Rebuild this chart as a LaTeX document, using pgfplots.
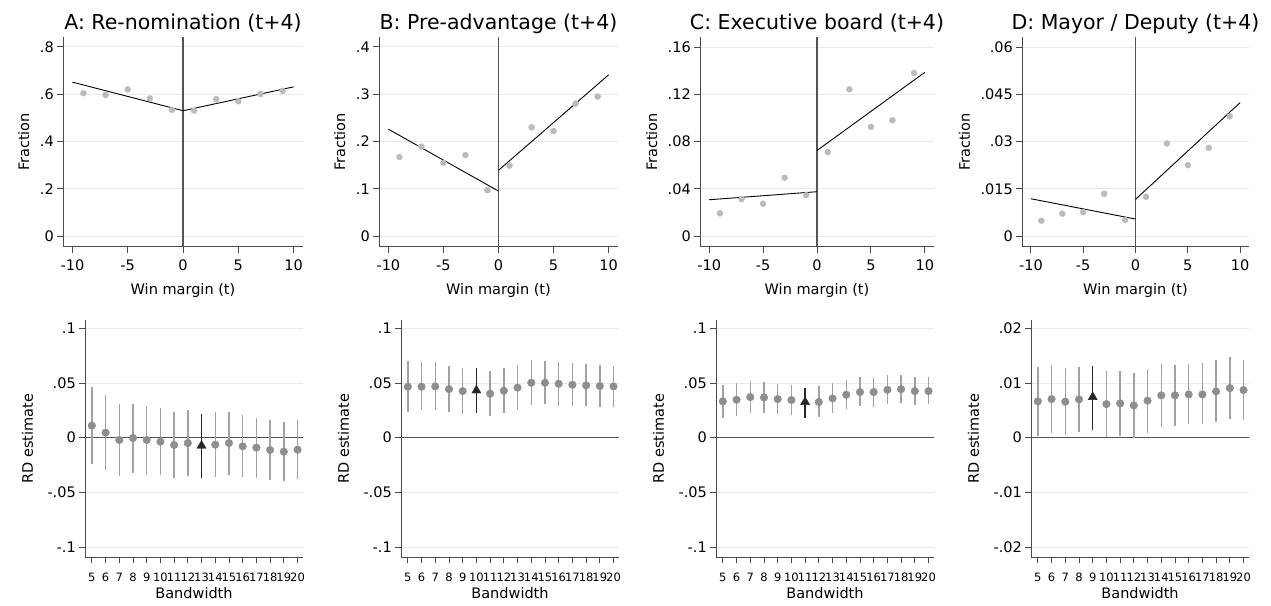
\documentclass[border=0pt]{standalone}
\usepackage{pgfplots}
\pgfplotsset{compat=1.18}
\usepackage{pgfplotstable}
\usepackage{fontspec}
\setmainfont{DejaVu Sans}
\definecolor{axiscol}{HTML}{4A4A4A}
\definecolor{gridcol}{HTML}{EAEAEA}
\definecolor{dotlight}{HTML}{BBBBBB}
\definecolor{dotmid}{HTML}{8E8E8E}
\definecolor{cigray}{HTML}{A2A2A2}
\definecolor{zerocol}{HTML}{555555}

% ---------- top row data ----------
\pgfplotstableread{
x y
-9 0.604
-7 0.597
-5 0.620
-3 0.582
-1 0.534
1 0.531
3 0.579
5 0.570
7 0.601
9 0.614
}\topA
\pgfplotstableread{
x y
-9 0.167
-7 0.189
-5 0.155
-3 0.171
-1 0.097
1 0.149
3 0.230
5 0.222
7 0.280
9 0.295
}\topB
\pgfplotstableread{
x y
-9 0.0192
-7 0.0313
-5 0.0273
-3 0.0493
-1 0.0346
1 0.0710
3 0.1242
5 0.0924
7 0.0980
9 0.1380
}\topC
\pgfplotstableread{
x y
-9 0.00486
-7 0.00708
-5 0.00760
-3 0.01340
-1 0.00510
1 0.01246
3 0.02940
5 0.02250
7 0.02800
9 0.03800
}\topD

% ---------- bottom row data ----------
\pgfplotstableread{
b e hi lo
5 0.0110 0.0460 -0.0244
6 0.0046 0.0387 -0.0292
7 -0.0021 0.0304 -0.0350
8 -0.0003 0.0310 -0.0326
9 -0.0021 0.0292 -0.0338
10 -0.0037 0.0271 -0.0341
11 -0.0067 0.0237 -0.0365
12 -0.0049 0.0250 -0.0353
14 -0.0064 0.0231 -0.0359
15 -0.0049 0.0231 -0.0341
16 -0.0079 0.0204 -0.0362
17 -0.0091 0.0183 -0.0368
18 -0.0113 0.0158 -0.0390
19 -0.0128 0.0140 -0.0399
20 -0.0110 0.0158 -0.0380
}\botA
\pgfplotstableread{
b e hi lo
5 0.0466 0.0697 0.0234
6 0.0466 0.0688 0.0250
7 0.0469 0.0688 0.0256
8 0.0444 0.0658 0.0234
9 0.0426 0.0636 0.0219
11 0.0402 0.0606 0.0198
12 0.0429 0.0633 0.0225
13 0.0457 0.0661 0.0253
14 0.0502 0.0706 0.0298
15 0.0502 0.0703 0.0304
16 0.0493 0.0694 0.0292
17 0.0484 0.0679 0.0286
18 0.0478 0.0670 0.0286
19 0.0472 0.0664 0.0280
20 0.0469 0.0658 0.0277
}\botB
\pgfplotstableread{
b e hi lo
5 0.0332 0.0484 0.0177
6 0.0347 0.0496 0.0201
7 0.0371 0.0518 0.0228
8 0.0368 0.0511 0.0222
9 0.0353 0.0493 0.0213
10 0.0344 0.0484 0.0204
12 0.0326 0.0469 0.0186
13 0.0359 0.0502 0.0222
14 0.0393 0.0530 0.0262
15 0.0417 0.0551 0.0286
16 0.0417 0.0548 0.0283
17 0.0438 0.0569 0.0307
18 0.0444 0.0575 0.0317
19 0.0426 0.0557 0.0301
20 0.0426 0.0557 0.0307
}\botC
\pgfplotstableread{
b e hi lo
5 0.00664 0.01297 0.00024
6 0.00706 0.01327 0.00085
7 0.00658 0.01279 0.00043
8 0.00700 0.01297 0.00097
10 0.00615 0.01212 0.00012
11 0.00627 0.01218 0.00037
12 0.00590 0.01181 0.00000
13 0.00676 0.01248 0.00091
14 0.00773 0.01339 0.00195
15 0.00773 0.01333 0.00213
16 0.00791 0.01346 0.00244
17 0.00791 0.01358 0.00244
18 0.00846 0.01412 0.00286
19 0.00907 0.01467 0.00347
20 0.00871 0.01419 0.00323
}\botD

\pgfplotsset{
  /pgf/number format/assume math mode=true,
  rdbase/.style={
    scale only axis,
    anchor=south west,
    axis x line*=bottom,
    axis y line*=left,
    axis line style={axiscol, line width=1pt},
    every tick/.style={axiscol, line width=0.9pt},
    major tick length=6pt,
    tick align=outside,
    ymajorgrids,
    grid style={gridcol, line width=0.9pt},
    scaled y ticks=false,
    scaled x ticks=false,
    yticklabel style={font=\fontsize{14.5}{14.5}\selectfont, inner sep=3pt},
    every axis label/.append style={font=\fontsize{14.5}{15}\selectfont},
    clip=false,
  },
  toprow/.style={
    rdbase,
    height=210pt,
    xmin=-10.85, xmax=10.85,
    xtick={-10,-5,0,5,10},
    xticklabels={-10,-5,0,5,10},
    xticklabel style={font=\fontsize{14.5}{14.5}\selectfont, yshift=-3pt},
    xlabel={Win margin (t)},
    xlabel style={yshift=-6pt},
    ylabel={Fraction},
    ylabel style={yshift=4pt},
    title style={font=\fontsize{20.5}{20.5}\selectfont, anchor=base, at={(0.5,1)}, yshift=1pt},
  },
  botrow/.style={
    rdbase,
    width=218pt, height=237pt,
    xmin=4.5, xmax=20.4,
    xtick={5,...,20},
    xticklabel style={font=\fontsize{11.5}{12}\selectfont, inner sep=1pt, yshift=-9pt},
    xlabel={Bandwidth},
    xlabel style={yshift=-1pt},
    ylabel={RD estimate},
    ylabel style={yshift=8pt},
  },
  dotsTop/.style={dotlight, only marks, mark=*, mark size=3pt},
  fitline/.style={black, line width=0.9pt, mark=none},
  vline/.style={zerocol, line width=1.1pt, mark=none},
  cis/.style={draw=none, mark=none, forget plot,
    error bars/.cd, y dir=both, y explicit, error mark=none,
    error bar style={cigray, line width=1.5pt}},
  cisHL/.style={draw=none, mark=none, forget plot,
    error bars/.cd, y dir=both, y explicit, error mark=none,
    error bar style={black!85, line width=1.5pt}},
  dotsBot/.style={dotmid, only marks, mark=*, mark size=3.8pt},
  triHL/.style={black!85, only marks, mark=triangle*, mark size=5.2pt},
}

\begin{document}
\begin{tikzpicture}
\path[use as bounding box] (0,0) rectangle (1271pt,605pt);

% ================= TOP ROW =================
\begin{axis}[toprow, at={(63pt,358pt)}, width=240pt,
  title={A: Re-nomination (t+4)},
  ymin=-0.0466, ymax=0.842,
  ytick={0,0.2,0.4,0.6,0.8}, yticklabels={0,.2,.4,.6,.8}]
  \addplot[vline] coordinates {(0,-0.0466) (0,0.842)};
  \addplot[dotsTop] table[x=x,y=y] {\topA};
  \addplot[fitline] coordinates {(-10,0.651) (0,0.530)};
  \addplot[fitline] coordinates {(0,0.530) (10,0.631)};
\end{axis}

\begin{axis}[toprow, at={(379pt,358pt)}, width=239pt,
  title={B: Pre-advantage (t+4)},
  ymin=-0.0233, ymax=0.421,
  ytick={0,0.1,0.2,0.3,0.4}, yticklabels={0,.1,.2,.3,.4}]
  \addplot[vline] coordinates {(0,-0.0233) (0,0.421)};
  \addplot[dotsTop] table[x=x,y=y] {\topB};
  \addplot[fitline] coordinates {(-10,0.226) (0,0.095)};
  \addplot[fitline] coordinates {(0,0.139) (10,0.341)};
\end{axis}

\begin{axis}[toprow, at={(700pt,358pt)}, width=234pt,
  title={C: Executive board (t+4)},
  ymin=-0.00931, ymax=0.1685,
  ytick={0,0.04,0.08,0.12,0.16}, yticklabels={0,.04,.08,.12,.16}]
  \addplot[vline] coordinates {(0,-0.00931) (0,0.1685)};
  \addplot[dotsTop] table[x=x,y=y] {\topC};
  \addplot[fitline] coordinates {(-10,0.0307) (0,0.0375)};
  \addplot[fitline] coordinates {(0,0.0724) (10,0.1386)};
\end{axis}

\begin{axis}[toprow, at={(1022pt,358pt)}, width=227pt,
  title={D: Mayor / Deputy (t+4)},
  ymin=-0.00349, ymax=0.0632,
  ytick={0,0.015,0.03,0.045,0.06}, yticklabels={0,.015,.03,.045,.06}]
  \addplot[vline] coordinates {(0,-0.00349) (0,0.0632)};
  \addplot[dotsTop] table[x=x,y=y] {\topD};
  \addplot[fitline] coordinates {(-10,0.01183) (0,0.00539)};
  \addplot[fitline] coordinates {(0,0.01162) (10,0.04236)};
\end{axis}

% ================= BOTTOM ROW =================
\begin{axis}[botrow, at={(85pt,48pt)},
  ymin=-0.1091, ymax=0.1076,
  ytick={-0.1,-0.05,0,0.05,0.1}, yticklabels={-.1,-.05,0,.05,.1}]
  \addplot[vline] coordinates {(4.5,0) (20.4,0)};
  \addplot[cis] table[x=b, y=e, y error plus expr=\thisrow{hi}-\thisrow{e}, y error minus expr=\thisrow{e}-\thisrow{lo}] {\botA};
  \addplot[cisHL] coordinates {(13,-0.0073) += (0,0.0289) -= (0,0.0298)};
  \addplot[dotsBot] table[x=b,y=e] {\botA};
  \addplot[triHL] coordinates {(13,-0.0073)};
\end{axis}

\begin{axis}[botrow, at={(401pt,48pt)},
  ymin=-0.1091, ymax=0.1076,
  ytick={-0.1,-0.05,0,0.05,0.1}, yticklabels={-.1,-.05,0,.05,.1}]
  \addplot[vline] coordinates {(4.5,0) (20.4,0)};
  \addplot[cis] table[x=b, y=e, y error plus expr=\thisrow{hi}-\thisrow{e}, y error minus expr=\thisrow{e}-\thisrow{lo}] {\botB};
  \addplot[cisHL] coordinates {(10,0.0432) += (0,0.0207) -= (0,0.0207)};
  \addplot[dotsBot] table[x=b,y=e] {\botB};
  \addplot[triHL] coordinates {(10,0.0432)};
\end{axis}

\begin{axis}[botrow, at={(716pt,48pt)},
  ymin=-0.1091, ymax=0.1076,
  ytick={-0.1,-0.05,0,0.05,0.1}, yticklabels={-.1,-.05,0,.05,.1}]
  \addplot[vline] coordinates {(4.5,0) (20.4,0)};
  \addplot[cis] table[x=b, y=e, y error plus expr=\thisrow{hi}-\thisrow{e}, y error minus expr=\thisrow{e}-\thisrow{lo}] {\botC};
  \addplot[cisHL] coordinates {(11,0.0326) += (0,0.0131) -= (0,0.0143)};
  \addplot[dotsBot] table[x=b,y=e] {\botC};
  \addplot[triHL] coordinates {(11,0.0326)};
\end{axis}

\begin{axis}[botrow, at={(1031pt,48pt)},
  ymin=-0.02182, ymax=0.02152,
  ytick={-0.02,-0.01,0,0.01,0.02}, yticklabels={-.02,-.01,0,.01,.02}]
  \addplot[vline] coordinates {(4.5,0) (20.4,0)};
  \addplot[cis] table[x=b, y=e, y error plus expr=\thisrow{hi}-\thisrow{e}, y error minus expr=\thisrow{e}-\thisrow{lo}] {\botD};
  \addplot[cisHL] coordinates {(9,0.00743) += (0,0.00572) -= (0,0.00603)};
  \addplot[dotsBot] table[x=b,y=e] {\botD};
  \addplot[triHL] coordinates {(9,0.00743)};
\end{axis}
\end{tikzpicture}
\end{document}
